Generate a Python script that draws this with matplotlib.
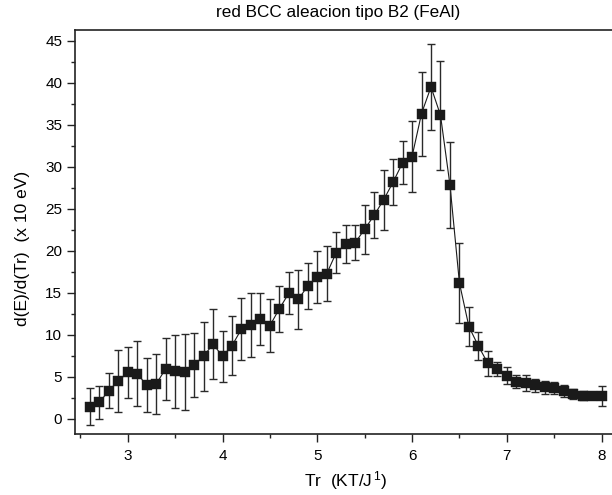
import numpy as np
import matplotlib
matplotlib.use("Agg")
import matplotlib.pyplot as plt
from matplotlib.ticker import MultipleLocator

tr = [2.6, 2.7, 2.8, 2.9, 3.0, 3.1, 3.2, 3.3, 3.4, 3.5, 3.6, 3.7, 3.8, 3.9,
      4.0, 4.1, 4.2, 4.3, 4.4, 4.5, 4.6, 4.7, 4.8, 4.9, 5.0, 5.1, 5.2, 5.3,
      5.4, 5.5, 5.6, 5.7, 5.8, 5.9, 6.0, 6.1, 6.2, 6.3, 6.4, 6.5, 6.6, 6.7,
      6.8, 6.9, 7.0, 7.1, 7.2, 7.3, 7.4, 7.5, 7.6, 7.7, 7.8, 7.9, 8.0]

dE = [1.43, 1.95, 3.34, 4.49, 5.53, 5.37, 3.98, 4.13, 5.96, 5.65, 5.57, 6.44,
      7.43, 8.90, 7.43, 8.70, 10.69, 11.15, 11.87, 11.09, 13.11, 14.95, 14.23,
      15.82, 16.89, 17.28, 19.79, 20.80, 20.98, 22.57, 24.24, 26.07, 28.19,
      30.48, 31.23, 36.35, 39.53, 36.16, 27.85, 16.17, 10.97, 8.66, 6.60, 5.92,
      5.13, 4.41, 4.25, 3.98, 3.74, 3.62, 3.26, 2.98, 2.74, 2.71, 2.71]

err = [2.2, 1.93, 2.08, 3.67, 3.04, 3.87, 3.2, 3.6, 3.7, 4.35, 4.55, 3.8, 4.1,
       4.2, 3.0, 3.5, 3.65, 3.8, 3.1, 3.2, 2.75, 2.5, 3.5, 2.7, 3.1, 3.25, 2.4,
       2.3, 2.05, 2.9, 2.75, 3.6, 2.7, 2.55, 4.2, 5.0, 5.1, 6.5, 5.1, 4.75,
       2.35, 1.67, 1.5, 0.85, 1.0, 0.8, 0.9, 0.78, 0.76, 0.72, 0.7, 0.62, 0.55,
       0.3, 1.2]

title = "red BCC aleacion tipo B2 (FeAl)"
xlabel = "Tr  (KT/J$^{\\,1}$)"
ylabel = "d(E)/d(Tr)  (x 10 eV)"

plt.rcParams['font.family'] = ['Liberation Sans', 'DejaVu Sans']
plt.rcParams['mathtext.fontset'] = 'custom'
plt.rcParams['mathtext.rm'] = 'Liberation Sans'
plt.rcParams['mathtext.it'] = 'Liberation Sans'

fig = plt.figure(figsize=(6.12, 4.95), dpi=100)
ax = fig.add_axes([74.7 / 612, 1 - 434 / 495, 1 - 74.7 / 612, (434 - 30.3) / 495])

ax.plot(tr, dE, '-', color='#1a1a1a', linewidth=0.8, zorder=2)
ax.errorbar(tr, dE, yerr=err, fmt='none', ecolor='#2a2a2a',
            elinewidth=1.0, capsize=3, capthick=1.0, zorder=3)
ax.plot(tr, dE, 's', color='#1a1a1a', markersize=6.6,
        markeredgecolor='#1a1a1a', markeredgewidth=0.3, zorder=4)

ax.set_xlim(2.44, 8.11)
ax.set_ylim(-1.82, 46.27)
ax.xaxis.set_major_locator(MultipleLocator(1))
ax.xaxis.set_minor_locator(MultipleLocator(0.5))
ax.yaxis.set_major_locator(MultipleLocator(5))
ax.yaxis.set_minor_locator(MultipleLocator(2.5))
ax.tick_params(which='major', direction='out', length=5.5, width=1, labelsize=11, color='#222222')
ax.tick_params(which='minor', direction='out', length=3, width=1, color='#222222')
ax.tick_params(axis='x', pad=5.5)
ax.tick_params(axis='y', pad=3.5)
ax.spines['right'].set_visible(False)
for s in ['left', 'bottom', 'top']:
    ax.spines[s].set_linewidth(1.2)
    ax.spines[s].set_color('#222222')

fig.text(338 / 612, 1 - 12 / 495, title, ha='center', va='center', fontsize=12.3)
fig.text(346 / 612, 1 - 481 / 495, xlabel, ha='center', va='center', fontsize=12.5)
fig.text(23 / 612, 1 - 248 / 495, ylabel, ha='center', va='center', rotation=90, fontsize=12.5)

fig.savefig("out.png", dpi=100)
